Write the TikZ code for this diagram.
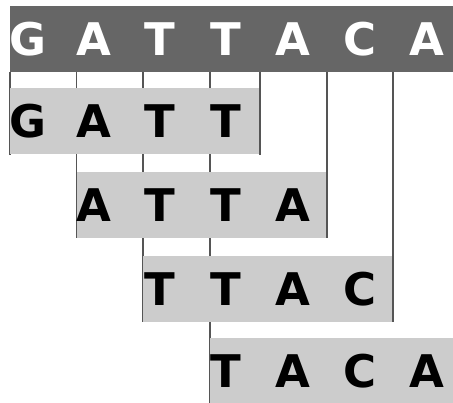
\documentclass[tikz,border=0pt]{standalone}
\usepackage{fontspec}
\setmainfont{DejaVu Sans}
\definecolor{barcol}{HTML}{666666}
\definecolor{readcol}{HTML}{CCCCCC}
\definecolor{guidecol}{HTML}{555555}
\begin{document}
\begin{tikzpicture}[x=1pt,y=1pt,
  topbar/.style={fill=barcol, inner sep=0, minimum height=66pt, minimum width=443pt, anchor=north west},
  readbox/.style={fill=readcol, inner sep=0, minimum height=66pt, minimum width=249pt, anchor=north west},
  guide/.style={draw=guidecol, line width=1.8pt},
  base/.style={font=\fontsize{45}{45}\selectfont\bfseries, inner sep=0, anchor=center},
  topletter/.style={base, text=white},
  readletter/.style={base, text=black}]
\useasboundingbox (0,0) rectangle (453,-403);
% top bar
\node[topbar] (top) at (10,-6) {};
% guide lines (behind the reads)
\coordinate (g0) at (10,-72);
\coordinate (g1) at (76.5,-72);
\coordinate (g2) at (143,-72);
\coordinate (g3) at (210,-72);
\coordinate (g4) at (260,-72);
\coordinate (g5) at (327,-72);
\coordinate (g6) at (393,-72);
\coordinate (e0) at (10,-155);
\coordinate (e1) at (76.5,-238);
\coordinate (e2) at (143,-322);
\coordinate (e3) at (210,-403);
\coordinate (e4) at (260,-155);
\coordinate (e5) at (327,-238);
\coordinate (e6) at (393,-322);
\foreach \i in {0,...,6} \draw[guide] (g\i) -- (e\i);
% reads
\node[readbox] (r1) at (10,-88) {};
\node[readbox] (r2) at (76.5,-172) {};
\node[readbox] (r3) at (143,-256) {};
\node[readbox] (r4) at (210,-338) {};
% top letters
\foreach \c/\x [count=\k] in {G/28,A/94,T/160,T/226,A/293,C/360,A/427}
  \node[topletter] (t\k) at (\x,-39) {\c};
% read letters
\foreach \c/\x [count=\k] in {G/28,A/94,T/160,T/226}
  \node[readletter] (a\k) at (\x,-121.5) {\c};
\foreach \c/\x [count=\k] in {A/94,T/160,T/226,A/293}
  \node[readletter] (b\k) at (\x,-205) {\c};
\foreach \c/\x [count=\k] in {T/160,T/226,A/293,C/360}
  \node[readletter] (c\k) at (\x,-289) {\c};
\foreach \c/\x [count=\k] in {T/226,A/293,C/360,A/427}
  \node[readletter] (d\k) at (\x,-371) {\c};
\end{tikzpicture}
\end{document}
